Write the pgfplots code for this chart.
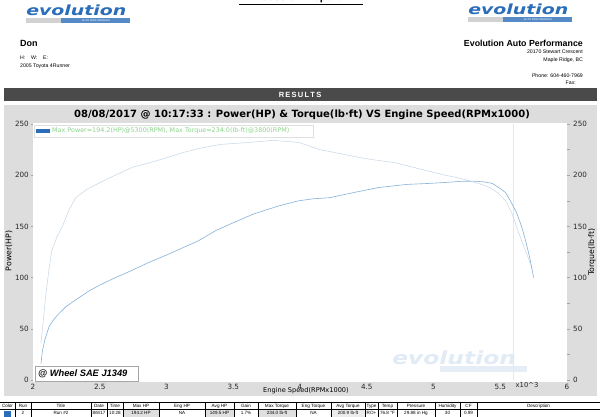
\documentclass[border=0pt]{standalone}
\usepackage{pgfplots}
\pgfplotsset{compat=1.18}
\usepackage{fontspec}
\setmainfont{Liberation Sans}
\newfontfamily\dv{DejaVu Sans}
\definecolor{panel}{HTML}{DDDDDD}
\definecolor{bar}{HTML}{4A4A4A}
\definecolor{logoblue}{HTML}{2A6DB8}
\definecolor{pwr}{HTML}{86B2DA}
\definecolor{trq}{HTML}{C6D6E6}
\definecolor{leggreen}{HTML}{8CD48C}
\newcommand\fs[1]{\fontsize{#1}{#1}\selectfont}
\newcommand\cell[4]{\node[font=\fs{4.6}, inner sep=0pt] at ({(#1+#2)/2},#3) {#4};}
\newcommand\logo[3]{%
  \fill[gray!35] (#1,#2-14) rectangle (#1+35,#2-19);
  \fill[logoblue!80] (#1+35,#2-14) rectangle (#1+104,#2-19);
  \node[font=\fs{2.6}, text=white, inner sep=0pt] at (#1+70,#2-16.5) {AUTO PERFORMANCE};
  \node[font=\dv\bfseries\itshape\fs{14}, text=#3, inner sep=0pt, anchor=base west, xscale=1.35] at (#1,#2-12) {evolution};}

\begin{document}
\begin{tikzpicture}[x=1pt,y=1pt]
\useasboundingbox (0,0) rectangle (600,-417);
\fill[white] (0,0) rectangle (600,-417);

% header
\node[font=\bfseries\fs{11}, anchor=base] at (301,-0.8) {Session Report};
\draw[line width=0.8pt] (239,-4.5) -- (363,-4.5);
\logo{26}{-4}{logoblue}
\logo{468}{-3}{logoblue}
\node[font=\bfseries\fs{9}, anchor=west, inner sep=0pt] at (20,-43) {Don};
\node[font=\fs{5.2}, anchor=west, inner sep=0pt] at (20,-58) {H:\ \ \ \ W:\ \ \ \ E:};
\node[font=\fs{5.2}, anchor=west, inner sep=0pt] at (20,-66) {2005 Toyota 4Runner};
\node[font=\bfseries\fs{8.8}, anchor=east, inner sep=0pt] at (583,-43) {Evolution Auto Performance};
\node[font=\fs{5.2}, anchor=east, inner sep=0pt] at (583,-52) {20170 Stewart Crescent};
\node[font=\fs{5.2}, anchor=east, inner sep=0pt] at (583,-60) {Maple Ridge, BC};
\node[font=\fs{5.2}, anchor=east, inner sep=0pt] at (583,-76) {Phone: 604-460-7969};
\node[font=\fs{5.2}, anchor=east, inner sep=0pt] at (576,-83) {Fax:};

% results bar and chart panel
\fill[bar] (4,-88) rectangle (597,-101);
\node[font=\bfseries\fs{7.5}, text=white, inner sep=0pt] at (300,-94.5) {R\,E\,S\,U\,L\,T\,S};
\fill[panel] (4,-105) rectangle (597,-396);
\fill[white] (33,-123) rectangle (567,-382);
\node[font=\dv\bfseries\fs{10}, inner sep=0pt] at (302,-115) {08/08/2017 @ 10:17:33 : Power(HP) \& Torque(lb·ft) VS Engine Speed(RPMx1000)};

% watermark
\fill[logoblue!12] (440,-366) rectangle (527,-372);
\node[font=\dv\bfseries\itshape\fs{18}, text=logoblue!14, inner sep=0pt, anchor=base west, xscale=1.3] at (392,-364.5) {evolution};

\begin{axis}[at={(33pt,-380pt)}, anchor=south west, scale only axis,
  width=534pt, height=256pt,
  xmin=2, xmax=6, ymin=0, ymax=250,
  axis line style={draw=none},
  xtick={2,2.5,...,6}, ytick={0,50,...,250},
  xtick pos=bottom, ytick pos=left,
  xtick style={draw=none},
  ytick style={draw=gray!70, thin}, major tick length=2pt, tick align=outside,
  ticklabel style={font=\dv\fs{7.2}, text=black!85},
  /pgf/number format/assume math mode=true,
  xticklabel style={anchor=north, inner sep=0pt, yshift=-2pt},
  yticklabel style={anchor=east, inner sep=0pt, xshift=-2pt},
  clip=false]
  % cursor line
  \addplot [trq!55, line width=0.3pt] coordinates {(5.6,0) (5.6,250)};
  % torque (lb-ft)
  \addplot [trq, line width=0.5pt] coordinates {
    (2.06,36) (2.08,62) (2.10,88) (2.12,108) (2.14,126) (2.18,140) (2.22,150)
    (2.27,166) (2.32,178) (2.40,186) (2.49,192) (2.60,199) (2.75,208) (2.87,212)
    (3.00,217) (3.12,222) (3.24,226) (3.40,230) (3.62,232) (3.80,234) (3.99,232)
    (4.15,225) (4.34,220) (4.50,216) (4.72,212) (4.90,206) (5.09,200) (5.20,197)
    (5.28,194) (5.36,191) (5.42,188) (5.48,183) (5.54,175) (5.59,162) (5.64,143)
    (5.69,126) (5.74,109)};
  % power (HP)
  \addplot [pwr, line width=0.6pt] coordinates {
    (2.06,16) (2.07,28) (2.09,40) (2.12,52) (2.15,58) (2.18,63) (2.25,72)
    (2.34,80) (2.42,87) (2.49,92) (2.60,99) (2.74,107) (2.87,115) (3.00,122)
    (3.12,129) (3.24,136) (3.37,146) (3.49,153) (3.65,162) (3.84,170) (3.99,175)
    (4.10,177) (4.22,178) (4.40,183) (4.59,188) (4.80,191) (4.97,192) (5.10,193)
    (5.20,194) (5.30,194.2) (5.38,193.5) (5.44,192) (5.50,187) (5.54,183)
    (5.58,174) (5.62,164) (5.66,150) (5.69,136) (5.72,120) (5.75,100)};
\end{axis}

\begin{axis}[at={(33pt,-380pt)}, anchor=south west, scale only axis,
  width=534pt, height=256pt,
  xmin=2, xmax=6, ymin=0, ymax=250,
  axis line style={draw=none}, hide x axis,
  ytick={0,50,...,250}, minor ytick={25,75,...,225},
  ytick pos=right,
  ytick style={draw=gray!70, thin}, major tick length=3pt, minor tick length=3pt,
  tick align=outside,
  ticklabel style={font=\dv\fs{7.2}, text=black!85},
  /pgf/number format/assume math mode=true,
  yticklabel style={anchor=west, inner sep=0pt, xshift=3pt}]
  \addplot [draw=none] coordinates {(2,0)};
\end{axis}

% axis titles
\node[font=\dv\fs{7.8}, rotate=90, inner sep=0pt] at (9,-251) {Power(HP)};
\node[font=\dv\fs{7.8}, rotate=90, inner sep=0pt] at (592,-252) {Torque(lb·ft)};
\node[font=\dv\fs{6.6}, inner sep=0pt] at (306,-391) {Engine Speed(RPMx1000)};
\node[font=\dv\fs{6.8}, inner sep=0pt, text=black!85] at (527,-385) {x10\^{}3};

% legend
\draw[gray!25, line width=0.3pt] (34,-125) rectangle (313,-137);
\fill[logoblue] (36,-129.5) rectangle (50,-133);
\node[font=\dv\fs{6.4}, text=leggreen, anchor=west, inner sep=0pt] at (52,-131) {Max Power=194.2(HP)@5300(RPM), Max Torque=234.0(lb-ft)@3800(RPM)};

% wheel box
\draw[gray!70, fill=white, line width=0.4pt] (35,-366) rectangle (138,-381);
\node[font=\bfseries\itshape\fs{9.3}, anchor=west, inner sep=0pt] at (38,-373.5) {@ Wheel SAE J1349};

% results table
\fill[gray!25] (123,-409.5) rectangle (159,-417);
\fill[gray!25] (205,-409.5) rectangle (234,-417);
\fill[gray!25] (258,-409.5) rectangle (296,-417);
\fill[gray!15] (331,-409.5) rectangle (365,-417);
\fill[logoblue] (4,-411) rectangle (11,-416.5);
\draw[line width=0.4pt] (0,-402.5) -- (600,-402.5) (0,-409.5) -- (600,-409.5) (0,-417) -- (600,-417);
\foreach \b in {15,31,91,107,123,159,205,234,258,296,331,365,378,397,435,460,477}
  \draw[line width=0.4pt] (\b,-402.5) -- (\b,-417);
\cell{0}{15}{-406}{Color}
\cell{15}{31}{-406}{Run}
\cell{31}{91}{-406}{Title}
\cell{91}{107}{-406}{Date}
\cell{107}{123}{-406}{Time}
\cell{123}{159}{-406}{Max HP}
\cell{159}{205}{-406}{Eng HP}
\cell{205}{234}{-406}{Avg HP}
\cell{234}{258}{-406}{Gain}
\cell{258}{296}{-406}{Max Torque}
\cell{296}{331}{-406}{Eng Torque}
\cell{331}{365}{-406}{Avg Torque}
\cell{365}{378}{-406}{Type}
\cell{378}{397}{-406}{Temp}
\cell{397}{435}{-406}{Pressure}
\cell{435}{460}{-406}{Humidity}
\cell{460}{477}{-406}{CF}
\cell{477}{600}{-406}{Description}
\cell{15}{31}{-413.3}{2}
\cell{31}{91}{-413.3}{Run \#2}
\cell{91}{107}{-413.3}{8/8/17}
\cell{107}{123}{-413.3}{10:28}
\cell{123}{159}{-413.3}{194.2 HP}
\cell{159}{205}{-413.3}{NA}
\cell{205}{234}{-413.3}{149.5 HP}
\cell{234}{258}{-413.3}{1.7\%}
\cell{258}{296}{-413.3}{234.0 lb-ft}
\cell{296}{331}{-413.3}{NA}
\cell{331}{365}{-413.3}{200.9 lb-ft}
\cell{365}{378}{-413.3}{RO+}
\cell{378}{397}{-413.3}{76.8 °F}
\cell{397}{435}{-413.3}{29.88 in Hg}
\cell{435}{460}{-413.3}{30}
\cell{460}{477}{-413.3}{0.99}
\end{tikzpicture}
\end{document}
